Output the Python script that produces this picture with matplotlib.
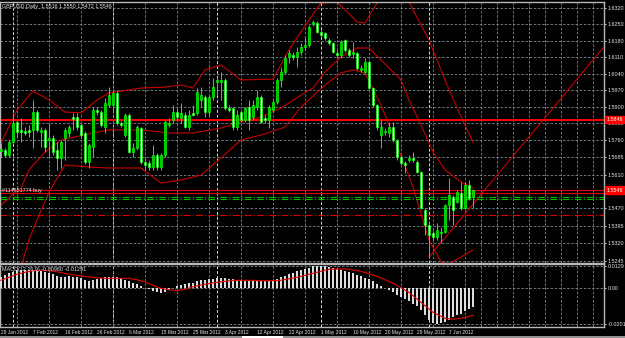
import numpy as np
import matplotlib.pyplot as plt
from matplotlib.patches import Rectangle
from matplotlib.transforms import blended_transform_factory

# GBPUSD daily candles, bar 0 = 29 Jan 2012
opens = [1.5712, 1.5717, 1.5695, 1.5751, 1.5836, 1.5802, 1.5797, 1.5802, 1.5802, 1.5878,
         1.5793, 1.5802, 1.5759, 1.5768, 1.5717, 1.5683, 1.5768, 1.5789, 1.5857, 1.5857,
         1.5823, 1.5789, 1.5666, 1.5729, 1.5887, 1.5878, 1.5814, 1.5908, 1.5908, 1.5959,
         1.5831, 1.5780, 1.5865, 1.5708, 1.5725, 1.5810, 1.5666, 1.5661, 1.5644, 1.5695,
         1.5644, 1.5695, 1.5823, 1.5844, 1.5878, 1.5853, 1.5865, 1.5814, 1.5874, 1.5874,
         1.5929, 1.5942, 1.5878, 1.5942, 1.6006, 1.6006, 1.6014, 1.5895, 1.5895, 1.5814,
         1.5878, 1.5844, 1.5899, 1.5857, 1.5899, 1.5942, 1.5853, 1.5844, 1.5887, 1.5921,
         1.6014, 1.6048, 1.6112, 1.6120, 1.6112, 1.6133, 1.6154, 1.6163, 1.6252, 1.6256,
         1.6218, 1.6214, 1.6184, 1.6171, 1.6129, 1.6120, 1.6184, 1.6142, 1.6124, 1.6129,
         1.6057, 1.6048, 1.6091, 1.5980, 1.5908, 1.5780, 1.5793, 1.5789, 1.5814, 1.5759,
         1.5687, 1.5661, 1.5674, 1.5683, 1.5666, 1.5623, 1.5461, 1.5398, 1.5364, 1.5347,
         1.5364, 1.5368, 1.5483, 1.5517, 1.5496, 1.5534, 1.5470, 1.5568, 1.5516]
highs = [1.5746, 1.5725, 1.5759, 1.5874, 1.5844, 1.5853, 1.5814, 1.5823, 1.5929, 1.5887,
         1.5814, 1.5810, 1.5831, 1.5780, 1.5751, 1.5759, 1.5810, 1.5823, 1.5874, 1.5874,
         1.5836, 1.5797, 1.5746, 1.5899, 1.5899, 1.5887, 1.5938, 1.5984, 1.5972, 1.5967,
         1.5840, 1.5874, 1.5874, 1.5746, 1.5823, 1.5814, 1.5683, 1.5674, 1.5738, 1.5704,
         1.5704, 1.5844, 1.5853, 1.5908, 1.5895, 1.5916, 1.5878, 1.5887, 1.5908, 1.5980,
         1.5984, 1.5950, 1.5950, 1.6023, 1.6023, 1.6048, 1.6023, 1.5908, 1.5899, 1.5887,
         1.5887, 1.5899, 1.5929, 1.5929, 1.5972, 1.5950, 1.5865, 1.5908, 1.5929, 1.6023,
         1.6069, 1.6120, 1.6142, 1.6133, 1.6154, 1.6171, 1.6197, 1.6248, 1.6269, 1.6265,
         1.6227, 1.6218, 1.6193, 1.6176, 1.6142, 1.6184, 1.6188, 1.6150, 1.6176, 1.6133,
         1.6078, 1.6108, 1.6099, 1.5984, 1.5912, 1.5844, 1.5810, 1.5836, 1.5836, 1.5763,
         1.5695, 1.5670, 1.5695, 1.5708, 1.5674, 1.5627, 1.5470, 1.5411, 1.5377, 1.5406,
         1.5389, 1.5487, 1.5598, 1.5525, 1.5547, 1.5581, 1.5581, 1.5589, 1.5550]
lows = [1.5687, 1.5687, 1.5687, 1.5746, 1.5772, 1.5751, 1.5780, 1.5772, 1.5725, 1.5793,
        1.5729, 1.5708, 1.5687, 1.5695, 1.5632, 1.5640, 1.5674, 1.5772, 1.5802, 1.5802,
        1.5768, 1.5657, 1.5640, 1.5687, 1.5865, 1.5814, 1.5789, 1.5899, 1.5887, 1.5823,
        1.5814, 1.5772, 1.5704, 1.5687, 1.5717, 1.5657, 1.5632, 1.5632, 1.5632, 1.5632,
        1.5632, 1.5687, 1.5814, 1.5831, 1.5844, 1.5831, 1.5810, 1.5802, 1.5861, 1.5865,
        1.5899, 1.5857, 1.5865, 1.5929, 1.5950, 1.5929, 1.5887, 1.5878, 1.5802, 1.5802,
        1.5836, 1.5836, 1.5802, 1.5844, 1.5887, 1.5831, 1.5831, 1.5810, 1.5878, 1.5912,
        1.5984, 1.6040, 1.6086, 1.6099, 1.6069, 1.6120, 1.6142, 1.6154, 1.6244, 1.6214,
        1.6197, 1.6184, 1.6163, 1.6129, 1.6112, 1.6108, 1.6133, 1.6112, 1.6108, 1.6057,
        1.6048, 1.6040, 1.5976, 1.5899, 1.5802, 1.5725, 1.5780, 1.5772, 1.5751, 1.5674,
        1.5653, 1.5619, 1.5666, 1.5666, 1.5619, 1.5466, 1.5355, 1.5262, 1.5334, 1.5334,
        1.5321, 1.5364, 1.5419, 1.5398, 1.5491, 1.5461, 1.5461, 1.5504, 1.5472]
closes = [1.5721, 1.5695, 1.5751, 1.5831, 1.5793, 1.5793, 1.5789, 1.5793, 1.5878, 1.5802,
          1.5802, 1.5729, 1.5768, 1.5708, 1.5683, 1.5751, 1.5802, 1.5814, 1.5848, 1.5814,
          1.5780, 1.5666, 1.5738, 1.5887, 1.5878, 1.5823, 1.5916, 1.5950, 1.5959, 1.5831,
          1.5823, 1.5865, 1.5708, 1.5725, 1.5814, 1.5666, 1.5653, 1.5644, 1.5695, 1.5644,
          1.5695, 1.5836, 1.5831, 1.5878, 1.5857, 1.5874, 1.5814, 1.5865, 1.5865, 1.5963,
          1.5950, 1.5878, 1.5942, 1.5984, 1.6014, 1.6014, 1.5895, 1.5887, 1.5814, 1.5865,
          1.5844, 1.5895, 1.5844, 1.5908, 1.5942, 1.5836, 1.5844, 1.5899, 1.5921, 1.6014,
          1.6048, 1.6108, 1.6129, 1.6112, 1.6133, 1.6154, 1.6163, 1.6239, 1.6261, 1.6218,
          1.6205, 1.6193, 1.6171, 1.6133, 1.6120, 1.6176, 1.6142, 1.6120, 1.6133, 1.6065,
          1.6065, 1.6091, 1.5980, 1.5908, 1.5814, 1.5814, 1.5797, 1.5814, 1.5759, 1.5687,
          1.5661, 1.5653, 1.5683, 1.5674, 1.5623, 1.5470, 1.5398, 1.5355, 1.5347, 1.5377,
          1.5368, 1.5483, 1.5525, 1.5461, 1.5538, 1.5470, 1.5568, 1.5513, 1.5546]

# Bollinger bands (bar index, price)
upper_idx = [0, 4, 8, 12, 16, 20, 24, 27, 35, 41, 45, 48, 51, 55, 60, 68, 72, 77, 80,
             84, 86, 89, 91, 94, 98, 101, 103, 107, 111, 114, 118]
upper_val = [1.5746, 1.5887, 1.5967, 1.5929, 1.5878, 1.5874, 1.5929, 1.5959, 1.5980,
             1.5984, 1.5993, 1.5980, 1.6057, 1.6078, 1.6014, 1.6018, 1.6142, 1.6269,
             1.6341, 1.6346, 1.6312, 1.6261, 1.6256, 1.6341, 1.6418, 1.6388, 1.6312,
             1.6184, 1.6014, 1.5895, 1.5750]
middle_idx = [0, 5, 7, 11, 15, 23, 27, 35, 42, 48, 55, 60, 65, 70, 75, 78, 81, 85, 89,
              92, 95, 100, 102, 105, 108, 111, 115, 118]
middle_val = [1.5483, 1.5555, 1.5632, 1.5708, 1.5759, 1.5789, 1.5802, 1.5802, 1.5789,
              1.5789, 1.5810, 1.5836, 1.5857, 1.5895, 1.5950, 1.5980, 1.6048, 1.6112,
              1.6150, 1.6150, 1.6099, 1.6014, 1.5929, 1.5823, 1.5708, 1.5632, 1.5581,
              1.5555]
lower_idx = [0, 4, 7, 9, 12, 16, 22, 27, 35, 40, 45, 50, 55, 60, 65, 71, 75, 81, 85, 88,
             91, 95, 98, 103, 107, 110, 112, 115, 118]
lower_val = [1.4994, 1.5164, 1.5334, 1.5419, 1.5538, 1.5653, 1.5644, 1.5640, 1.5640,
             1.5576, 1.5589, 1.5610, 1.5683, 1.5759, 1.5780, 1.5814, 1.5899, 1.5993,
             1.6044, 1.6057, 1.6044, 1.5908, 1.5780, 1.5559, 1.5334, 1.5241, 1.5232,
             1.5262, 1.5292]

trend_idx = [107, 150.5]
trend_val = [1.5262, 1.6150]

level_main = 1.5846
bid_price = 1.5546
order_price = 1.5533
green_levels = [1.5518, 1.5507]
stop_level = 1.5440

# MACD(12,26,9)
macd_hist = [0.00666, 0.00757, 0.00854, 0.00950, 0.01041, 0.01041, 0.01041, 0.01041, 0.01041, 0.01007,
             0.01007, 0.00950, 0.00893, 0.00814, 0.00700, 0.00666, 0.00666, 0.00700, 0.00666, 0.00666,
             0.00569, 0.00472, 0.00438, 0.00472, 0.00512, 0.00569, 0.00626, 0.00666, 0.00666, 0.00666,
             0.00569, 0.00472, 0.00438, 0.00285, 0.00245, 0.00131, 0.00040, -0.00057, -0.00131, -0.00188,
             -0.00285, -0.00188, -0.00097, 0.00005, 0.00131, 0.00188, 0.00245, 0.00285, 0.00324, 0.00438,
             0.00455, 0.00484, 0.00512, 0.00541, 0.00569, 0.00569, 0.00569, 0.00541, 0.00512, 0.00484,
             0.00455, 0.00427, 0.00398, 0.00398, 0.00398, 0.00398, 0.00398, 0.00427, 0.00455, 0.00541,
             0.00626, 0.00711, 0.00797, 0.00882, 0.00967, 0.01024, 0.01081, 0.01166, 0.01252, 0.01292,
             0.01280, 0.01252, 0.01195, 0.01138, 0.01081, 0.01024, 0.00967, 0.00910, 0.00854, 0.00768,
             0.00683, 0.00597, 0.00512, 0.00398, 0.00256, 0.00114, 0.00000, -0.00114, -0.00228, -0.00370,
             -0.00512, -0.00626, -0.00740, -0.00882, -0.01024, -0.01252, -0.01536, -0.01821, -0.01974, -0.02009,
             -0.01974, -0.01918, -0.01821, -0.01633, -0.01496, -0.01440, -0.01292, -0.01155, -0.01064]
signal_idx = [0, 2, 4, 6, 8, 10, 12, 14, 16, 18, 20, 22, 24, 26, 28, 30, 32, 34, 36, 38,
              40, 42, 44, 46, 48, 50, 54, 58, 62, 66, 70, 74, 78, 82, 86, 90, 94, 98, 102,
              105, 108, 111, 113, 115, 118]
signal_val = [0.00455, 0.00626, 0.00797, 0.00910, 0.00996, 0.01024, 0.00996, 0.00939, 0.00854,
              0.00768, 0.00711, 0.00654, 0.00597, 0.00569, 0.00569, 0.00569, 0.00569, 0.00484,
              0.00370, 0.00171, 0.00000, -0.00085, -0.00131, -0.00057, 0.00085, 0.00188, 0.00341,
              0.00455, 0.00455, 0.00427, 0.00455, 0.00626, 0.00854, 0.01081, 0.01110, 0.00967,
              0.00683, 0.00285, -0.00228, -0.00797, -0.01366, -0.01707, -0.01764, -0.01707, -0.01536]

price_ticks = [1.6320, 1.6250, 1.6180, 1.6110, 1.6040, 1.5970, 1.5900, 1.5830, 1.5760,
               1.5685, 1.5610, 1.5470, 1.5395, 1.5320, 1.5245]
macd_ticks = [0.0129, 0.0, -0.0201]
macd_tick_labels = ['0.0129', '0.00', '-0.0201']
date_idx = [0, 8, 16, 24, 32, 40, 48, 56, 64, 72, 80, 88, 96, 104, 112]
date_labels = ['29 Jan 2012', '7 Feb 2012', '16 Feb 2012', '26 Feb 2012', '6 Mar 2012',
               '15 Mar 2012', '25 Mar 2012', '3 Apr 2012', '12 Apr 2012', '22 Apr 2012',
               '1 May 2012', '10 May 2012', '20 May 2012', '29 May 2012', '7 Jun 2012']
month_starts = [3, 28, 54, 80, 107]

plt.rcParams['font.family'] = ['Liberation Sans', 'DejaVu Sans']
fs = 3.9
fs_dates = 3.5
txt = '#e6e6e6'
grid_c = '#7a8a99'
W, H = 625, 338


def rect(x0, y0, x1, y1):
    return [x0 / W, 1 - y1 / H, (x1 - x0) / W, (y1 - y0) / H]


fig = plt.figure(figsize=(6.25, 3.38), dpi=100, facecolor='black')
ax = fig.add_axes(rect(0, 2, 604, 263))
axm = fig.add_axes(rect(0, 264, 604, 327), sharex=ax)

for a in (ax, axm):
    a.set_facecolor('black')
    for s in a.spines.values():
        s.set_color('#b8b8b8')
        s.set_linewidth(1)
    a.yaxis.tick_right()
    a.tick_params(axis='y', colors=txt, labelsize=fs, length=1.5, pad=1, width=0.6)
    a.set_xticks(np.arange(0, 151, 4), minor=True)
    a.grid(which='minor', axis='x', color=grid_c, linestyle=(0, (3, 2)), linewidth=0.6)
    for m in month_starts:
        a.axvline(m, color='#d8d8d8', linestyle=(0, (3, 2)), linewidth=0.7, zorder=1)

ax.set_xlim(-0.25, 150.75)
ax.set_ylim(1.52363, 1.63455)
ax.set_yticks(price_ticks)
ax.set_yticklabels([f'{p:.4f}' for p in price_ticks])
ax.grid(which='major', axis='y', color=grid_c, linestyle=(0, (3, 2)), linewidth=0.6)
ax.tick_params(axis='x', which='both', length=0, labelbottom=False)

# candles
idx = np.arange(len(closes))
o = np.array(opens)
c = np.array(closes)
bull = c >= o
ax.vlines(idx, lows, highs, color='#00ff00', linewidth=0.7, zorder=3)
body_lo = np.minimum(o, c)
body_h = np.maximum(np.abs(c - o), 0.00025)
ax.bar(idx[bull], body_h[bull], bottom=body_lo[bull], width=0.65,
       color='#00c000', edgecolor='#00ff00', linewidth=0.5, zorder=4)
ax.bar(idx[~bull], body_h[~bull], bottom=body_lo[~bull], width=0.65,
       color='white', edgecolor='#00ff00', linewidth=0.5, zorder=4)

# bands and lines
for bi, bv in ((upper_idx, upper_val), (middle_idx, middle_val), (lower_idx, lower_val)):
    ax.plot(bi, bv, color='#c80000', linewidth=0.8, zorder=2)
ax.plot(trend_idx, trend_val, color='#c80000', linewidth=0.8, zorder=2)
ax.axhline(level_main, color='#ff0000', linewidth=1.4, zorder=2)
ax.axhline(bid_price, color='#e00000', linewidth=0.8, zorder=2)
ax.axhline(order_price, color='#e00000', linewidth=0.8, zorder=2)
for g in green_levels:
    ax.axhline(g, color='#00c000', linewidth=0.8, linestyle=(0, (6, 2, 1, 2)), zorder=2)
ax.axhline(stop_level, color='#e00000', linewidth=0.8, linestyle=(0, (6, 2, 1, 2)), zorder=2)

bt = blended_transform_factory(ax.transAxes, ax.transData)
for lvl in (level_main, bid_price):
    ax.text(1.004, lvl, f'{lvl:.4f}', transform=bt, fontsize=fs, color='white',
            va='center', ha='left', clip_on=False, zorder=10,
            bbox=dict(boxstyle='square,pad=0.25', fc='#ff0000', ec='#ff0000'))
ax.text(0.004, order_price, '#114851774 buy', transform=bt, fontsize=fs, color=txt,
        va='bottom', ha='left')
ax.text(0.004, 0.993, 'GBPUSD,Daily  1.5516 1.5550 1.5472 1.5546', transform=ax.transAxes,
        fontsize=fs, color=txt, va='top', ha='left')

# MACD window
axm.bar(idx, macd_hist, width=0.38, color='#dcdcdc', zorder=3)
axm.plot(signal_idx, signal_val, color='#e00000', linewidth=0.8, zorder=4)
axm.set_ylim(-0.02202, 0.01383)
axm.set_yticks(macd_ticks)
axm.set_yticklabels(macd_tick_labels)
axm.grid(which='major', axis='y', color=grid_c, linestyle=(0, (3, 2)), linewidth=0.6)
axm.set_xticks(date_idx)
axm.set_xticklabels(date_labels, ha='left')
axm.tick_params(axis='x', which='major', colors=txt, labelsize=fs_dates, length=0, pad=2.5)
axm.tick_params(axis='x', which='minor', length=0)
axm.text(0.004, 0.96, 'MACD(12,26,9) -0.00980 -0.01291', transform=axm.transAxes,
         fontsize=fs, color=txt, va='top', ha='left', zorder=10)

fig.patches.append(Rectangle((0, 0), 1, 2 / H, transform=fig.transFigure,
                             facecolor='#909090', edgecolor='none'))
fig.patches.append(Rectangle((242 / W, 0), 41 / W, 2 / H, transform=fig.transFigure,
                             facecolor='white', edgecolor='none'))

fig.savefig('out.png', dpi=100, facecolor='black')
